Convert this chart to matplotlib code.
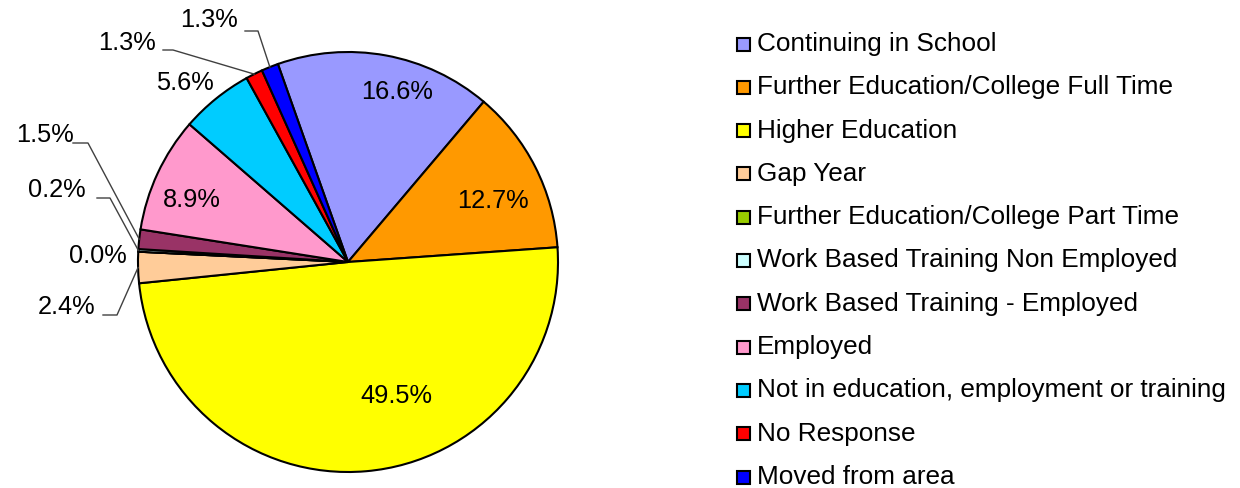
import numpy as np
import matplotlib.pyplot as plt
from matplotlib.patches import Rectangle

plt.rcParams['font.family'] = ['Liberation Sans', 'DejaVu Sans']

categories = ['Continuing in School', 'Further Education/College Full Time',
              'Higher Education', 'Gap Year', 'Further Education/College Part Time',
              'Work Based Training Non Employed', 'Work Based Training - Employed',
              'Employed', 'Not in education, employment or training',
              'No Response', 'Moved from area']
values = [16.6, 12.7, 49.5, 2.4, 0.0, 0.2, 1.5, 8.9, 5.6, 1.3, 1.3]
colors = ['#9999FF', '#FF9900', '#FFFF00', '#FFCC99', '#99CC00', '#CCFFFF',
          '#993366', '#FF99CC', '#00CCFF', '#FF0000', '#0000FF']

W, H = 1240, 488
cx, cy, R = 348, 262, 210
start = 109.5

fig = plt.figure(figsize=(W / 100, H / 100), dpi=100)
ax = fig.add_axes([(cx - R) / W, (H - cy - R) / H, 2 * R / W, 2 * R / H])
wedges, _ = ax.pie(values, colors=colors, startangle=start, counterclock=False,
                   radius=1, wedgeprops=dict(edgecolor='black', linewidth=1.5))
ax.set_xlim(-1, 1)
ax.set_ylim(-1, 1)
ax.set_aspect('equal')


def px(x, y):
    return (x - cx) / R, (cy - y) / R


# label centres in pixels, and leader line elbows
label_pos = [(397, 92), (493, 201), (396, 396), (67, 307), (98, 256), (57, 190),
             (45, 135), (192, 200), (185, 83), (127, 43), (209, 20)]
leaders = {3: [(103, 315), (117, 315)], 5: [(97, 198), (110, 198)],
           6: [(73, 143), (88, 143)], 9: [(163, 50), (173, 50)],
           10: [(245, 31), (258, 31)]}

for i, (w, v) in enumerate(zip(wedges, values)):
    tx, ty = px(*label_pos[i])
    ax.text(tx, ty, f'{v:.1f}%', ha='center', va='center', fontsize=18.3,
            color='black', clip_on=False)
    if i in leaders:
        mid = np.deg2rad((w.theta1 + w.theta2) / 2)
        pts = [px(*p) for p in leaders[i]] + [(np.cos(mid), np.sin(mid))]
        ax.plot([p[0] for p in pts], [p[1] for p in pts], color='#404040',
                lw=1, clip_on=False)

# legend
for i, (c, name) in enumerate(zip(colors, categories)):
    y = 44 + i * 43.3
    fig.patches.append(Rectangle((737 / W, (H - y - 6.5) / H), 13 / W, 13 / H,
                                 facecolor=c, edgecolor='black', lw=1.5,
                                 transform=fig.transFigure))
    fig.text(757 / W, (H - y) / H, name, fontsize=18.8, va='center', ha='left')

fig.savefig('out.png', dpi=100)
